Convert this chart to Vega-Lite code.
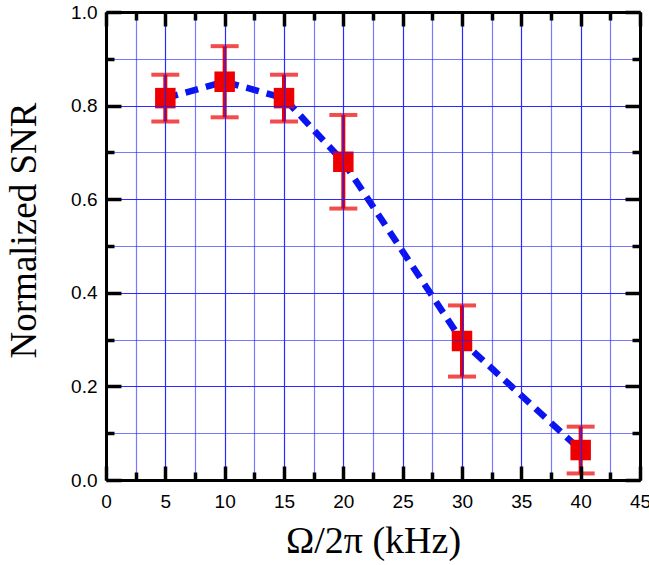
{
  "$schema": "https://vega.github.io/schema/vega-lite/v6.json",
  "width": 534,
  "height": 468,
  "autosize": "none",
  "padding": {"left": 106, "top": 12, "right": 9, "bottom": 85},
  "background": "white",
  "config": {"view": {"stroke": null}},
  "data": {"values": [
    {"f": 5, "snr": 0.816, "lo": 0.766, "hi": 0.866},
    {"f": 10, "snr": 0.851, "lo": 0.775, "hi": 0.927},
    {"f": 15, "snr": 0.816, "lo": 0.766, "hi": 0.866},
    {"f": 20, "snr": 0.68, "lo": 0.58, "hi": 0.78},
    {"f": 30, "snr": 0.297, "lo": 0.221, "hi": 0.373},
    {"f": 40, "snr": 0.064, "lo": 0.014, "hi": 0.114}
  ]},
  "layer": [
    {
      "mark": {"type": "line", "color": "#0a14f0", "strokeWidth": 6.5, "strokeDash": [13, 8], "strokeCap": "butt"},
      "encoding": {
        "x": {"field": "f", "type": "quantitative", "scale": {"domain": [0, 45], "nice": false, "zero": false},
          "axis": {"orient": "bottom", "values": [0,2.5,5,7.5,10,12.5,15,17.5,20,22.5,25,27.5,30,32.5,35,37.5,40,42.5,45],
            "grid": true, "gridColor": "#2020ff", "gridWidth": 1.2,
            "gridOpacity": {"condition": {"test": "datum.value % 5 !== 0", "value": 0.6}, "value": 0.95},
            "tickSize": -14,
            "tickDash": {"condition": {"test": "datum.value % 5 !== 0", "value": [8, 200]}, "value": [20, 0]},
            "tickColor": "black", "tickWidth": 3.5, "zindex": 1,
            "domainColor": "black", "domainWidth": 3,
            "labelExpr": "datum.value % 5 === 0 ? datum.label : ''",
            "labelFont": "Liberation Sans", "labelFontSize": 19, "labelColor": "black", "labelPadding": 26,
            "labelFlush": false, "labelOverlap": false,
            "title": "Ω/2π (kHz)", "titleFont": "Liberation Serif", "titleFontSize": 38, "titleFontWeight": "normal",
            "titleColor": "black", "titlePadding": 11}},
        "y": {"field": "snr", "type": "quantitative", "scale": {"domain": [0, 1], "nice": false},
          "axis": {"orient": "left", "values": [0,0.1,0.2,0.3,0.4,0.5,0.6,0.7,0.8,0.9,1.0],
            "grid": true, "gridColor": "#2020ff", "gridWidth": 1.2,
            "gridOpacity": {"condition": {"test": "abs(datum.value*5 - round(datum.value*5)) > 0.001", "value": 0.6}, "value": 0.95},
            "tickSize": -15,
            "tickDash": {"condition": {"test": "abs(datum.value*5 - round(datum.value*5)) > 0.001", "value": [8, 200]}, "value": [20, 0]},
            "tickColor": "black", "tickWidth": 3.5, "zindex": 1,
            "domainColor": "black", "domainWidth": 3,
            "labelExpr": "abs(datum.value*5 - round(datum.value*5)) < 0.001 ? format(datum.value, '.1f') : ''",
            "labelFont": "Liberation Sans", "labelFontSize": 19, "labelColor": "black", "labelPadding": 24,
            "labelFlush": false, "labelOverlap": false,
            "title": "Normalized SNR", "titleFont": "Liberation Serif", "titleFontSize": 37, "titleFontWeight": "normal",
            "titleColor": "black", "titlePadding": 27, "titleY": 218}}
      }
    },
    {
      "mark": {"type": "rule", "color": "#ee0000", "strokeWidth": 4},
      "encoding": {
        "x": {"field": "f", "type": "quantitative", "axis": null},
        "y": {"field": "lo", "type": "quantitative", "axis": null},
        "y2": {"field": "hi"}
      }
    },
    {
      "mark": {"type": "tick", "orient": "horizontal", "color": "#ee0000", "size": 28, "thickness": 4},
      "encoding": {
        "x": {"field": "f", "type": "quantitative", "axis": null},
        "y": {"field": "lo", "type": "quantitative", "axis": null}
      }
    },
    {
      "mark": {"type": "tick", "orient": "horizontal", "color": "#ee0000", "size": 28, "thickness": 4},
      "encoding": {
        "x": {"field": "f", "type": "quantitative", "axis": null},
        "y": {"field": "hi", "type": "quantitative", "axis": null}
      }
    },
    {
      "mark": {"type": "square", "color": "#ee0000", "opacity": 1, "filled": true, "size": 420},
      "encoding": {
        "x": {"field": "f", "type": "quantitative",
          "axis": {"orient": "top", "values": [0,2.5,5,7.5,10,12.5,15,17.5,20,22.5,25,27.5,30,32.5,35,37.5,40,42.5,45],
            "grid": false, "labels": false, "title": null, "zindex": 1,
            "tickSize": -14,
            "tickDash": {"condition": {"test": "datum.value % 5 !== 0", "value": [8, 200]}, "value": [20, 0]},
            "tickColor": "black", "tickWidth": 3.5, "domainColor": "black", "domainWidth": 3}},
        "y": {"field": "snr", "type": "quantitative",
          "axis": {"orient": "right", "values": [0,0.1,0.2,0.3,0.4,0.5,0.6,0.7,0.8,0.9,1.0],
            "grid": false, "labels": false, "title": null, "zindex": 1,
            "tickSize": -15,
            "tickDash": {"condition": {"test": "abs(datum.value*5 - round(datum.value*5)) > 0.001", "value": [8, 200]}, "value": [20, 0]},
            "tickColor": "black", "tickWidth": 3.5, "domainColor": "black", "domainWidth": 3}}
      }
    }
  ]
}
